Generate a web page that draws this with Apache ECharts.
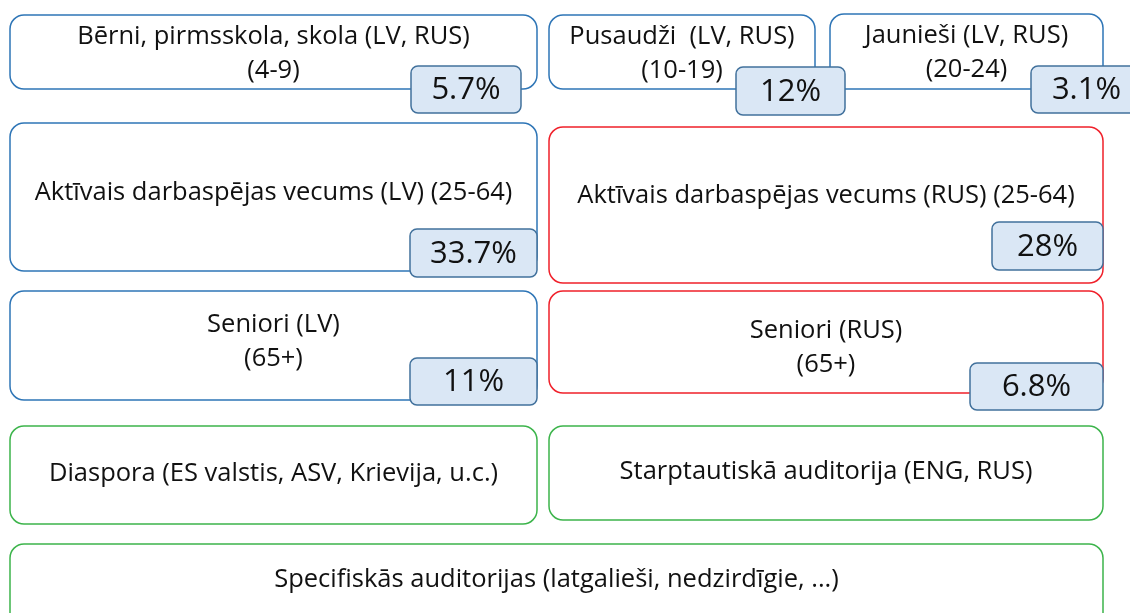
<!DOCTYPE html>
<html>
<head>
<meta charset="utf-8">
<script src="https://cdn.jsdelivr.net/npm/echarts@6/dist/echarts.min.js"></script>
<style>html,body{margin:0;padding:0;background:#fff}#c{width:1130px;height:613px}</style>
</head>
<body>
<div id="c"></div>
<script>
// ---- data ----
var labels = [
  'Bērni, pirmsskola, skola (LV, RUS)',
  'Pusaudži  (LV, RUS)',
  'Jaunieši (LV, RUS)',
  'Aktīvais darbaspējas vecums (LV) (25-64)',
  'Aktīvais darbaspējas vecums (RUS) (25-64)',
  'Seniori (LV)',
  'Seniori (RUS)',
  'Diaspora (ES valstis, ASV, Krievija, u.c.)',
  'Starptautiskā auditorija (ENG, RUS)',
  'Specifiskās auditorijas (latgalieši, nedzirdīgie, ...)'
];
var ageRanges = ['(4-9)', '(10-19)', '(20-24)', '', '', '(65+)', '(65+)', '', '', ''];
var groups = ['mixed', 'mixed', 'mixed', 'LV', 'RUS', 'LV', 'RUS', 'other', 'other', 'other'];
var shares = [5.7, 12, 3.1, 33.7, 28, 11, 6.8, null, null, null];

// ---- layout (axis units, y grows downward) ----
var boxLayout = [
  [10, 15, 537, 89, 54],
  [549, 15, 815, 89, 54],
  [830, 14, 1103, 89, 53],
  [10, 123, 537, 271, 193],
  [549, 127, 1103, 283, 196],
  [10, 291, 537, 400, 342],
  [549, 291, 1103, 393, 348],
  [10, 426, 537, 524, 474],
  [549, 426, 1103, 520, 472],
  [10, 544, 1103, 640, 580]
];
var badgeLayout = [
  [411, 66, 521, 113],
  [736, 67, 845, 115],
  [1031, 66, 1142, 113],
  [410, 229, 537, 277],
  [992, 222, 1103, 270],
  [410, 358, 537, 405],
  [970, 363, 1103, 410],
  null, null, null
];
var borderColors = {mixed: '#2e75b6', LV: '#2e75b6', RUS: '#f0202a', other: '#3cb44b'};
var FONT = '"Open Sans"';

var boxData = labels.map(function (l, i) {
  var b = boxLayout[i];
  return [b[0], b[1], b[2], b[3], b[4], i];
});
var badgeData = [];
shares.forEach(function (s, i) {
  if (s != null) {
    var b = badgeLayout[i];
    badgeData.push([b[0], b[1], b[2], b[3], s, i]);
  }
});

var chart = echarts.init(document.getElementById('c'));
chart.setOption({
  animation: false,
  grid: {left: 0, right: 0, top: 0, bottom: 0},
  xAxis: {type: 'value', min: 0, max: 1130, show: false},
  yAxis: {type: 'value', min: 0, max: 613, inverse: true, show: false},
  series: [
    {
      type: 'custom',
      clip: false,
      data: boxData,
      renderItem: function (params, api) {
        var i = api.value(5);
        var p0 = api.coord([api.value(0), api.value(1)]);
        var p1 = api.coord([api.value(2), api.value(3)]);
        var pc = api.coord([(api.value(0) + api.value(2)) / 2, api.value(4)]);
        var txt = labels[i] + (ageRanges[i] ? '\n' + ageRanges[i] : '');
        return {
          type: 'group',
          children: [
            {
              type: 'rect',
              shape: {x: p0[0], y: p0[1], width: p1[0] - p0[0], height: p1[1] - p0[1], r: 14},
              style: {fill: '#fff', stroke: borderColors[groups[i]], lineWidth: 1.5}
            },
            {
              type: 'text',
              x: pc[0], y: pc[1],
              style: {
                text: txt, fill: '#111', font: '25.5px ' + FONT,
                align: 'center', verticalAlign: 'middle', lineHeight: 34
              }
            }
          ]
        };
      }
    },
    {
      type: 'custom',
      clip: false,
      z: 3,
      data: badgeData,
      renderItem: function (params, api) {
        var p0 = api.coord([api.value(0), api.value(1)]);
        var p1 = api.coord([api.value(2), api.value(3)]);
        return {
          type: 'group',
          children: [
            {
              type: 'rect',
              shape: {x: p0[0], y: p0[1], width: p1[0] - p0[0], height: p1[1] - p0[1], r: 7},
              style: {fill: '#dae7f5', stroke: '#41719c', lineWidth: 1.5}
            },
            {
              type: 'text',
              x: (p0[0] + p1[0]) / 2, y: (p0[1] + p1[1]) / 2 + 1,
              style: {
                text: api.value(4) + '%', fill: '#111', font: '31px ' + FONT,
                align: 'center', verticalAlign: 'middle'
              }
            }
          ]
        };
      }
    }
  ]
});
</script>
</body>
</html>
